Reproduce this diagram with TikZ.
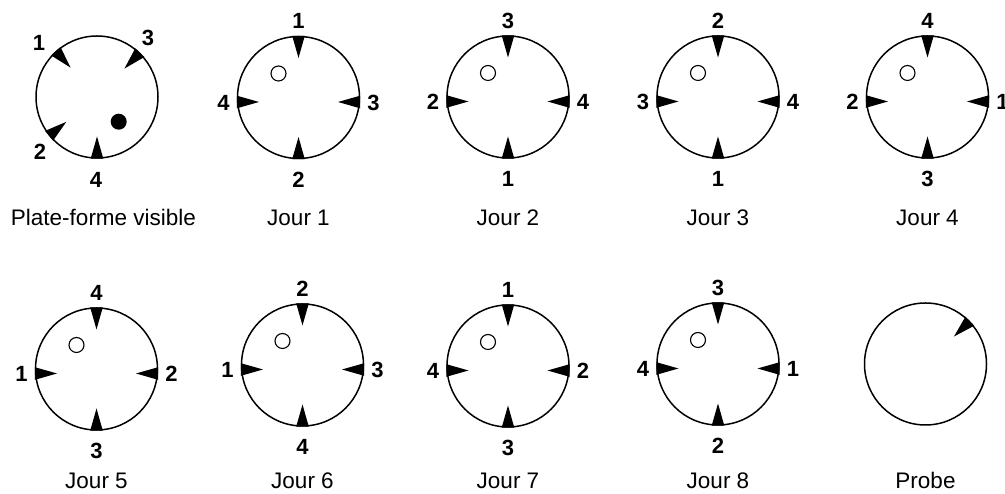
\documentclass[tikz,border=0pt]{standalone}
\usepackage{fontspec}
\setmainfont{Liberation Sans}
\usetikzlibrary{calc}
\tikzset{
  dial/.style={circle, draw, line width=1.5pt, minimum size=122pt, inner sep=0pt, outer sep=0pt},
  hole/.style={circle, draw, line width=1.1pt, minimum size=15pt, inner sep=0pt},
  blob/.style={circle, fill, minimum size=16pt, inner sep=0pt},
  num/.style={font=\fontsize{22}{22}\bfseries\selectfont, inner sep=0pt},
  capt/.style={font=\fontsize{22.5}{22.5}\selectfont, anchor=base, inner sep=0pt},
}
\newcommand\pin[3]{\fill[shift={(#1.center)}, yshift=#3, rotate=#2] (61.6,-6.3) -- (61.6,6.3) -- (39.5,0) -- cycle;}
\newcommand\jour[9]{%
  \node[dial] (#1) at (#2,#3) {};
  \node[hole] (#1h) at ($(#1)+(-20,24)$) {};
  \pin{#1}{90}{0pt}
  \pin{#1}{270}{0pt}
  \pin{#1}{0}{-4.5pt}
  \pin{#1}{180}{-4.5pt}
  \node[num] (#1t) at ($(#1)+(0,76.5)$) {#4};
  \node[num] (#1l) at ($(#1)+(-75,-5)$) {#5};
  \node[num] (#1r) at ($(#1)+(75,-5)$) {#6};
  \node[num] (#1b) at ($(#1)+(0,-82)$) {#7};
  \node[capt] (#1c) at (#2,#9) {#8};
}
\begin{document}
\begin{tikzpicture}[x=1pt,y=1pt]
\path[use as bounding box, clip] (0,0) rectangle (1005,494);
\fill[white] (0,0) rectangle (1005,494);
% Plate-forme visible
\node[dial] (pf) at (97,397) {};
\pin{pf}{132}{0pt}
\pin{pf}{46}{0pt}
\pin{pf}{219}{0pt}
\pin{pf}{270}{0pt}
\node[blob] (pfd) at ($(pf)+(21.7,-24.7)$) {};
\node[num] (pf1) at ($(pf)+(-58,54)$) {1};
\node[num] (pf3) at ($(pf)+(51,59)$) {3};
\node[num] (pf2) at ($(pf)+(-57,-55)$) {2};
\node[num] (pf4) at ($(pf)+(-1,-83)$) {4};
\node[capt] (pfc) at (103.5,268.5) {Plate-forme visible};
% Jours
\jour{ja}{298.5}{396.5}{1}{4}{3}{2}{Jour 1}{268.5}
\jour{jb}{508}{397}{3}{2}{4}{1}{Jour 2}{268.5}
\jour{jc}{718}{397}{2}{3}{4}{1}{Jour 3}{268.5}
\jour{jd}{927.5}{397}{4}{2}{1}{3}{Jour 4}{268.5}
\jour{je}{96.5}{125}{4}{1}{2}{3}{Jour 5}{5}
\jour{jf}{302.5}{129}{2}{1}{3}{4}{Jour 6}{5}
\jour{jg}{508}{128}{1}{4}{2}{3}{Jour 7}{5}
\jour{jh}{718}{130}{3}{4}{1}{2}{Jour 8}{5}
% Probe
\node[dial] (pr) at (925.5,130) {};
\pin{pr}{44}{0pt}
\node[capt] (prc) at (925.5,5) {Probe};
\end{tikzpicture}
\end{document}
